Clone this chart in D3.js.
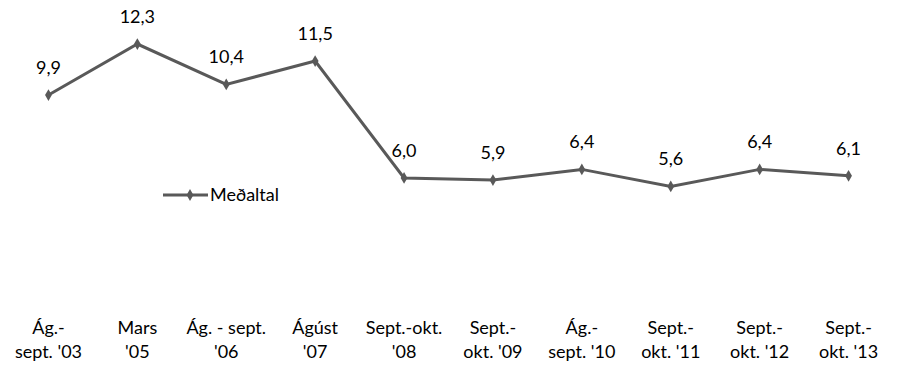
<!DOCTYPE html>
<html><head><meta charset="utf-8">
<script src="https://cdn.jsdelivr.net/npm/d3@7"></script>
<style>body{margin:0;background:#fff}text{font-family:Lato,"Open Sans",sans-serif;fill:#000;font-weight:400}</style>
</head><body><svg id="c" width="899" height="369"></svg>
<script>
const labels1 = ["Ág.-","Mars","Ág. - sept.","Ágúst","Sept.-okt.","Sept.-","Ág.-","Sept.-","Sept.-","Sept.-"];
const labels2 = ["sept. '03","'05","'06","'07","'08","okt. '09","sept. '10","okt. '11","okt. '12","okt. '13"];
const values = [9.9,12.3,10.4,11.5,6.0,5.9,6.4,5.6,6.4,6.1];
const seriesName = "Meðaltal";

const svg = d3.select("#c");
const x = d3.scaleBand().domain(d3.range(values.length)).range([4,893]);
const y = d3.scaleLinear().domain([0,14]).range([305.4,7.9]);
const col = "#595959";
const cx = i => x(i)+x.bandwidth()/2;
const fs = 18;

svg.append("path").datum(values)
  .attr("d", d3.line().x((d,i)=>cx(i)).y(d=>y(d)))
  .attr("fill","none").attr("stroke",col).attr("stroke-width",3);

const diamond = d3.symbol().type(d3.symbolDiamond).size(40);
svg.selectAll(".m").data(values).join("path")
  .attr("d", diamond).attr("fill",col)
  .attr("transform",(d,i)=>`translate(${cx(i)},${y(d)})`);

svg.selectAll(".v").data(values).join("text")
  .attr("x",(d,i)=>cx(i)).attr("y",d=>y(d)-21)
  .attr("text-anchor","middle").attr("font-size",fs)
  .text(d=>d.toFixed(1).replace(".",","));

const g = svg.append("g");
g.selectAll(".l1").data(labels1).join("text")
  .attr("x",(d,i)=>cx(i)).attr("y",334).attr("text-anchor","middle").attr("font-size",fs).text(d=>d);
g.selectAll(".l2").data(labels2).join("text")
  .attr("x",(d,i)=>cx(i)).attr("y",358).attr("text-anchor","middle").attr("font-size",fs).text(d=>d);

const lg = svg.append("g");
lg.append("line").attr("x1",163).attr("x2",208).attr("y1",195).attr("y2",195).attr("stroke",col).attr("stroke-width",3);
lg.append("path").attr("d",diamond).attr("fill",col).attr("transform","translate(190,195)");
lg.append("text").attr("x",210).attr("y",201).attr("font-size",fs).text(seriesName);
</script></body></html>
